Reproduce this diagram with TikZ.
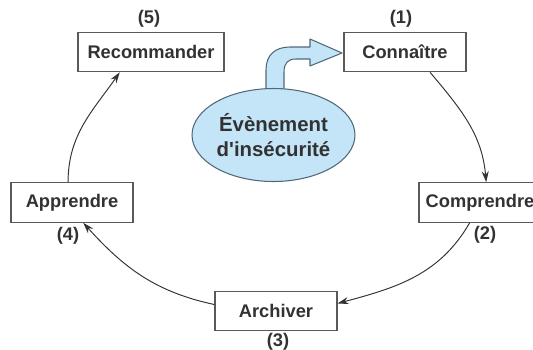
\documentclass[tikz,border=0pt]{standalone}
\usepackage{fontspec}
\setmainfont{Liberation Sans}
\usetikzlibrary{arrows.meta,shapes.geometric}
\definecolor{bleu}{RGB}{196,229,247}
\definecolor{bord}{RGB}{80,105,120}
\definecolor{texte}{RGB}{50,50,50}
\begin{document}
\begin{tikzpicture}[x=0.02cm,y=-0.02cm,
    etape/.style={draw=black!65,line width=0.6pt,fill=white,minimum width=2.44cm,minimum height=0.79cm,inner sep=0pt,text=texte,font=\fontsize{10.4}{12}\selectfont\bfseries},
    numero/.style={text=texte,font=\fontsize{10.4}{12}\selectfont\bfseries,inner sep=0pt},
    fleche/.style={-{Stealth[length=2.2mm,width=1.4mm]},draw=black!80,line width=0.55pt}]
        \useasboundingbox (0,0) rectangle (533,349);
        % les cinq etapes
        \node[etape,minimum width=2.92cm] (reco) at (151,52) {Recommander};
        \node[etape] (conn) at (405,52) {Connaître};
        \node[etape] (comp) at (480,202.5) {Comprendre};
        \node[etape] (arch) at (276,311) {Archiver};
        \node[etape] (appr) at (72,202.5) {Apprendre};
        \node[numero] (n5) at (149,19) {(5)};
        \node[numero] (n1) at (401,19) {(1)};
        \node[numero] (n2) at (485,235) {(2)};
        \node[numero] (n3) at (278,342) {(3)};
        \node[numero] (n4) at (68,236) {(4)};
        % fleche bleue
        \draw[fill=bleu,draw=bord,line width=0.6pt,line join=round]
            (266,100) -- (266,70) .. controls (266,55) and (275,47) .. (290,47)
            -- (310,47) -- (310,39) -- (342,53) -- (310,66) -- (310,59) -- (296,59)
            .. controls (288,59) and (284,63) .. (284,72) -- (284,100) -- cycle;
        \node[draw=bord,fill=bleu,ellipse,line width=0.6pt,minimum width=3.26cm,minimum height=1.86cm,inner sep=0pt,
              text=texte,align=center,font=\fontsize{11.6}{14.5}\selectfont\bfseries] (evt) at (273.5,135)
              {Évènement\\d\textquotesingle insécurité};
        % le cycle
        \draw[fleche] (conn.-39) to[out=-50,in=95] (comp.73);
        \draw[fleche] (comp.-117) to[out=-120,in=15] (arch.7);
        \draw[fleche] (arch.174) to[out=168,in=-48] (appr.-61);
        \draw[fleche] (appr.101) to[out=90,in=-125] (reco.-147);
      \end{tikzpicture}
\end{document}
